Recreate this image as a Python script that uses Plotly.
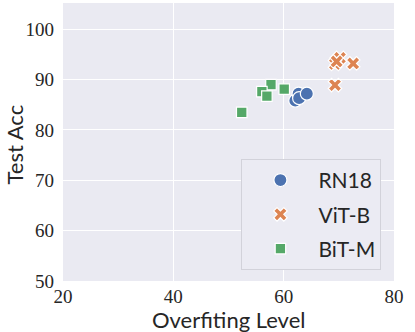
import plotly.graph_objects as go

# Data
rn18_x = [62.1, 62.7, 62.8, 64.2]
rn18_y = [85.8, 87.2, 86.3, 87.2]

vit_x = [70.2, 69.3, 69.6, 72.6, 69.3]
vit_y = [94.3, 93.1, 93.6, 93.2, 88.9]

bit_x = [57.7, 56.05, 56.96, 60.1, 52.4]
bit_y = [89.0, 87.6, 86.7, 88.1, 83.5]

x_ticks = [20, 40, 60, 80]
y_ticks = [50, 60, 70, 80, 90, 100]

series = [
    ("RN18", rn18_x, rn18_y, "circle", "#4C72B0", 13),
    ("ViT-B", vit_x, vit_y, "x", "#DD8452", 12),
    ("BiT-M", bit_x, bit_y, "square", "#55A868", 10.5),
]

fig = go.Figure()
for i, (name, xs, ys, sym, col, sz) in enumerate(series):
    fig.add_trace(go.Scatter(
        x=xs, y=ys, mode="markers", name=name, legendgroup=name,
        marker=dict(symbol=sym, color=col, size=sz,
                    line=dict(color="white", width=1.2)),
    ))

tick_font = dict(family="Liberation Serif", size=19, color="#262626")
title_font = dict(family="Lato", size=22, color="#262626")

fig.update_layout(
    width=415, height=332,
    margin=dict(l=62.5, r=21, t=3, b=51, autoexpand=False),
    paper_bgcolor="white",
    plot_bgcolor="#EAEAF2",
    showlegend=True,
    legend=dict(
        x=0.962, y=0.04, xanchor="right", yanchor="bottom",
        bgcolor="#EBEBF3", bordercolor="#D2D2DA", borderwidth=1,
        font=dict(family="Lato", size=21, color="#262626"),
        tracegroupgap=4, itemwidth=66,
    ),
    xaxis=dict(
        range=[20, 80], tickvals=x_ticks, ticktext=[str(v) for v in x_ticks],
        showgrid=True, gridcolor="white", gridwidth=1, zeroline=False,
        tickfont=tick_font, ticks="", ticklabelstandoff=2, automargin=False,
    ),
    yaxis=dict(
        range=[50, 105.2], tickvals=y_ticks, ticktext=[str(v) for v in y_ticks],
        showgrid=True, gridcolor="white", gridwidth=1, zeroline=False,
        tickfont=tick_font, ticks="", ticklabelstandoff=8, automargin=False,
    ),
    annotations=[
        dict(text="Overfiting Level", xref="paper", yref="paper",
             x=0.5, y=-0.084, xanchor="center", yanchor="top",
             showarrow=False, font=title_font),
        dict(text="Test Acc", xref="paper", yref="paper",
             x=-0.146, y=0.49, xanchor="center", yanchor="middle",
             textangle=-90, showarrow=False, font=title_font),
    ],
)

fig.write_html("out.html", config={"displayModeBar": False},
               post_script="document.body.style.margin='0';document.body.style.overflow='hidden';")
